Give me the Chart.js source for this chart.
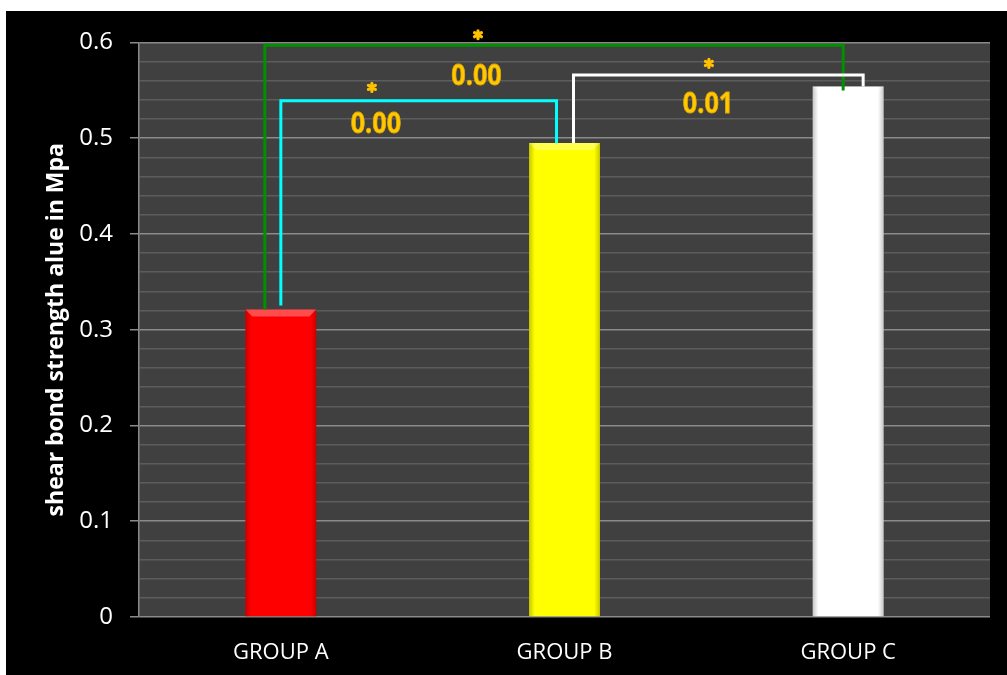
<!DOCTYPE html>
<html>
<head>
<meta charset="utf-8">
<script src="https://cdn.jsdelivr.net/npm/chart.js@4.4.0/dist/chart.umd.min.js"></script>
<style>
  body { margin: 0; background: #fff; }
  #wrap { position: absolute; left: 6px; top: 11px; width: 1001px; height: 664px; background: #000; }
</style>
</head>
<body>
<div id="wrap"><canvas id="bondChart" width="1001" height="664"></canvas></div>
<script>
// shear bond strength per group (MPa)
const groups = ['GROUP A', 'GROUP B', 'GROUP C'];
const bondStrength = [0.321, 0.495, 0.554];
const barColors = ['#FF0000', '#FFFF00', '#FFFFFF'];

// significance brackets between groups
const pairFrom = [0, 0, 1];
const pairTo = [2, 1, 2];
const bracketTop = [0.597, 0.539, 0.566];
const pValues = ['0.00', '0.00', '0.01'];

// look of each bracket: colour, leg offsets (px), leg gaps (px), label / star spots (x index, y value)
const bracketStyle = [
    { color: '#009000', legs: [-16, -5], gaps: [0, -4], label: [0.69, 0.5645], star: [0.695, 0.608] },
    { color: '#00FFFF', legs: [0, -8], gaps: [4, 0], label: [0.335, 0.5144], star: [0.321, 0.553] },
    { color: '#FFFFFF', legs: [9, 15], gaps: [0, 0], label: [1.506, 0.535], star: [1.509, 0.578] }
];

const isMajor = v => Math.abs(v * 10 - Math.round(v * 10)) < 1e-6;

const plotBackground = {
    id: 'plotBackground',
    beforeDraw(chart) {
        const { ctx, chartArea: a } = chart;
        ctx.save();
        ctx.fillStyle = '#404040';
        ctx.fillRect(a.left, a.top, a.right - a.left, a.bottom - a.top);
        ctx.restore();
    }
};

// soft bevel on the bars
const barBevel = {
    id: 'barBevel',
    afterDatasetsDraw(chart) {
        const ctx = chart.ctx;
        chart.getDatasetMeta(0).data.forEach(bar => {
            const { x, y, base, width } = bar.getProps(['x', 'y', 'base', 'width'], true);
            const l = x - width / 2, r = x + width / 2;
            ctx.save();
            const g = ctx.createLinearGradient(l, 0, r, 0);
            g.addColorStop(0, 'rgba(0,0,0,0.22)');
            g.addColorStop(0.08, 'rgba(0,0,0,0)');
            g.addColorStop(0.92, 'rgba(0,0,0,0)');
            g.addColorStop(1, 'rgba(0,0,0,0.22)');
            ctx.fillStyle = g;
            ctx.fillRect(l, y, width, base - y);
            ctx.beginPath();
            ctx.moveTo(l, y);
            ctx.lineTo(r, y);
            ctx.lineTo(r - 7, y + 7);
            ctx.lineTo(l + 7, y + 7);
            ctx.closePath();
            ctx.fillStyle = 'rgba(255,255,255,0.3)';
            ctx.fill();
            ctx.restore();
        });
    }
};

function drawStar(ctx, cx, cy) {
    ctx.beginPath();
    for (let k = 0; k < 3; k++) {
        const a = Math.PI / 2 + k * Math.PI / 3;
        ctx.moveTo(cx - 4 * Math.cos(a), cy - 4 * Math.sin(a));
        ctx.lineTo(cx + 4 * Math.cos(a), cy + 4 * Math.sin(a));
    }
    ctx.strokeStyle = '#FFC000';
    ctx.lineWidth = 3.2;
    ctx.lineCap = 'round';
    ctx.stroke();
}

const brackets = {
    id: 'brackets',
    afterDatasetsDraw(chart) {
        const { ctx, scales: { x, y } } = chart;
        pairFrom.forEach((from, i) => {
            const st = bracketStyle[i];
            const to = pairTo[i];
            const x1 = x.getPixelForValue(from) + st.legs[0];
            const x2 = x.getPixelForValue(to) + st.legs[1];
            const yTop = y.getPixelForValue(bracketTop[i]);
            const y1 = y.getPixelForValue(bondStrength[from]) - st.gaps[0];
            const y2 = y.getPixelForValue(bondStrength[to]) - st.gaps[1];
            ctx.save();
            ctx.beginPath();
            ctx.moveTo(x1, y1);
            ctx.lineTo(x1, yTop);
            ctx.lineTo(x2, yTop);
            ctx.lineTo(x2, y2);
            ctx.strokeStyle = st.color;
            ctx.lineWidth = 3;
            ctx.lineJoin = 'miter';
            ctx.stroke();

            drawStar(ctx, x.getPixelForValue(st.star[0]), y.getPixelForValue(st.star[1]));

            // p value
            const lx = x.getPixelForValue(st.label[0]);
            const ly = y.getPixelForValue(st.label[1]);
            ctx.translate(lx, ly);
            ctx.scale(0.87, 1);
            ctx.font = 'bold 29px "Open Sans"';
            ctx.textAlign = 'center';
            ctx.textBaseline = 'middle';
            ctx.fillStyle = '#FFC800';
            ctx.fillText(pValues[i], 0, 0);
            ctx.strokeStyle = '#E0A800';
            ctx.lineWidth = 0.8;
            ctx.strokeText(pValues[i], 0, 0);
            ctx.restore();
        });
    }
};

const ctx = document.getElementById('bondChart').getContext('2d');
const bondChart = new Chart(ctx, {
    type: 'bar',
    data: {
        labels: groups,
        datasets: [{
            data: bondStrength,
            backgroundColor: barColors,
            borderWidth: 0,
            barPercentage: 0.25,
            categoryPercentage: 1
        }]
    },
    options: {
        responsive: false,
        animation: false,
        layout: { padding: { left: 0, right: 17, top: 17, bottom: 10 } },
        plugins: {
            legend: { display: false },
            tooltip: { enabled: false }
        },
        scales: {
            x: {
                afterFit(scale) { scale.height = 48; },
                grid: { display: false },
                border: { display: false },
                ticks: {
                    color: '#FFFFFF',
                    padding: 15,
                    maxRotation: 0,
                    font: { family: '"Open Sans"', size: 22 }
                }
            },
            y: {
                min: 0,
                max: 0.6,
                afterFit(scale) { scale.width = 133; },
                grid: {
                    color: c => isMajor(c.tick.value) ? '#8A8A8A' : '#5C5C5C',
                    tickColor: c => isMajor(c.tick.value) ? '#8A8A8A' : 'rgba(0,0,0,0)',
                    lineWidth: 1.5,
                    tickLength: 9
                },
                border: { color: '#8A8A8A', width: 1.5 },
                ticks: {
                    stepSize: 0.02,
                    autoSkip: false,
                    color: '#FFFFFF',
                    padding: 17,
                    font: { family: '"Open Sans"', size: 24 },
                    callback: v => isMajor(v) ? String(Math.round(v * 10) / 10) : ''
                },
                title: {
                    display: true,
                    text: 'shear bond strength alue in Mpa',
                    color: '#FFFFFF',
                    padding: { top: 37, bottom: 0 },
                    font: { family: '"Open Sans"', size: 23, weight: 'bold' }
                }
            }
        }
    },
    plugins: [plotBackground, barBevel, brackets]
});
</script>
</body>
</html>
